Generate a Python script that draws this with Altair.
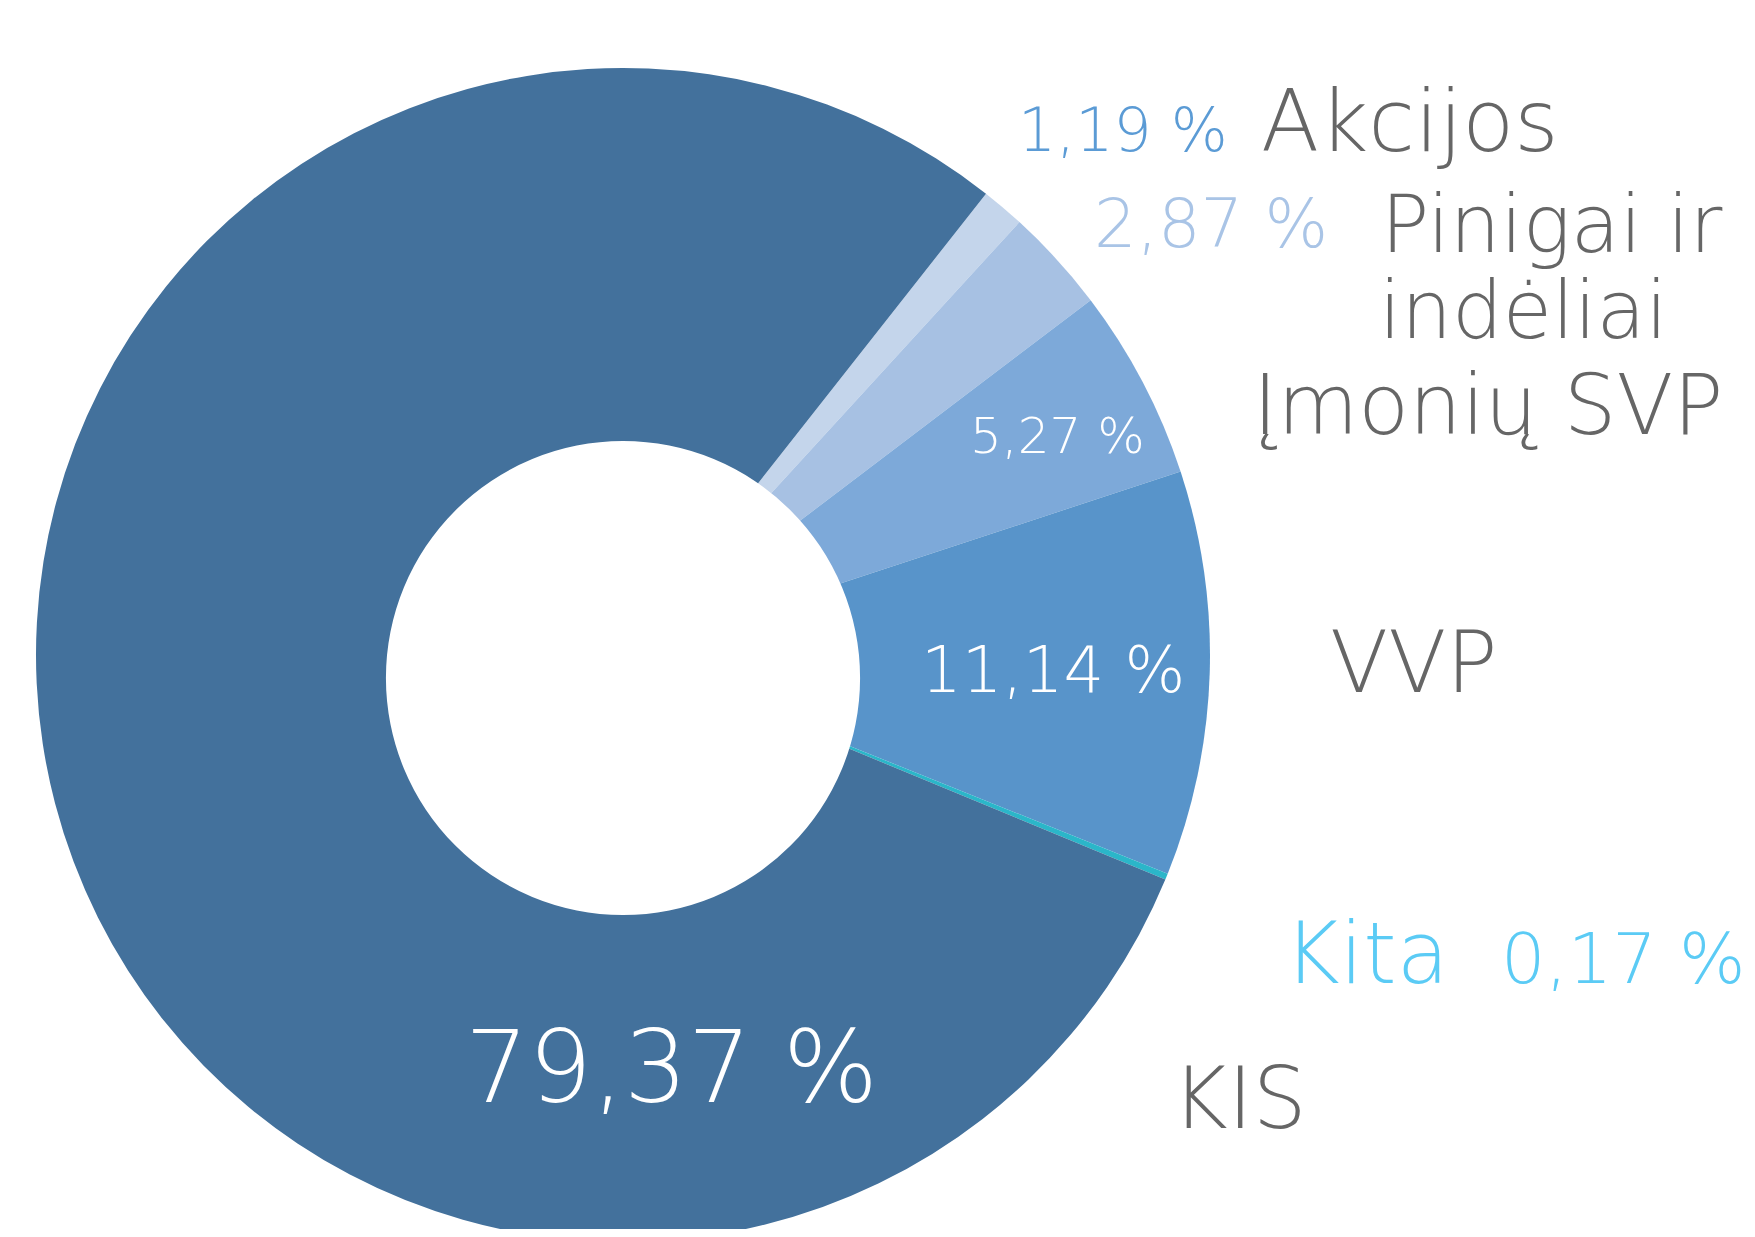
import math
import altair as alt
import pandas as pd

# ---- data ----
categories = ["Akcijos", "Pinigai ir indėliai", "Įmonių SVP", "VVP", "Kita", "KIS"]
values = [1.19, 2.87, 5.27, 11.14, 0.17, 79.37]
pct_labels = ["1,19 %", "2,87 %", "5,27 %", "11,14 %", "0,17 %", "79,37 %"]
slice_colors = ["#C4D5EB", "#A7C1E3", "#7DA9D9", "#5894CA", "#2BB6C9", "#43719C"]

df = pd.DataFrame({
    "category": categories,
    "value": values,
    "order": list(range(len(categories))),
})

W, H = 1739, 1221
CX, CY, R = 615, 647, 587          # pie centre / radius
HX, HY, HR = 615, 670, 237         # white hole
START = math.radians(38.2)

FONT = "DejaVu Sans"
GRAY = "#666666"

pie = alt.Chart(df).mark_arc(radius=R, stroke=None).encode(
    theta=alt.Theta("value:Q", stack=True,
                    scale=alt.Scale(range=[START, START + 2 * math.pi])),
    order=alt.Order("order:Q"),
    color=alt.Color("category:N",
                    scale=alt.Scale(domain=categories, range=slice_colors),
                    legend=None),
    x=alt.value(CX),
    y=alt.value(CY),
)

hole = alt.Chart(pd.DataFrame({"h": [1]})).mark_arc(
    radius=HR, theta=0, theta2=2 * math.pi, color="white"
).encode(x=alt.value(HX), y=alt.value(HY))

# annotation layout: (text, x, y, size, colour)
annotations = [
    (pct_labels[0], 1010, 143, 60, "#5B9BD5"),
    ("Akcijos", 1253, 143, 85, GRAY),
    (pct_labels[1], 1086, 239, 67, "#A9C4E6"),
    ("Pinigai ir", 1373, 244, 80, GRAY),
    ("indėliai", 1371, 330, 80, GRAY),
    ("Įmonių SVP", 1245, 426, 83, GRAY),
    (pct_labels[2], 962, 445, 50, "white"),
    (pct_labels[3], 913, 684, 64, "white"),
    ("VVP", 1322, 684, 85, GRAY),
    ("Kita", 1276, 975, 85, "#5BCBF5"),
    (pct_labels[4], 1493, 975, 70, "#5BCBF5"),
    (pct_labels[5], 457, 1094, 100, "white"),
    ("KIS", 1164, 1120, 85, GRAY),
]

text_layers = []
for txt, x, y, size, col in annotations:
    text_layers.append(
        alt.Chart(pd.DataFrame({"t": [txt]})).mark_text(
            align="left", baseline="alphabetic", font=FONT,
            fontWeight=200, fontSize=size, color=col,
        ).encode(text="t:N", x=alt.value(x), y=alt.value(y))
    )

chart = alt.layer(pie, hole, *text_layers).properties(
    width=W, height=H,
    padding=0,
    autosize=alt.AutoSizeParams(type="none"),
).configure_view(stroke=None)

chart.save("out.html", embed_options={"renderer": "svg", "actions": False})
